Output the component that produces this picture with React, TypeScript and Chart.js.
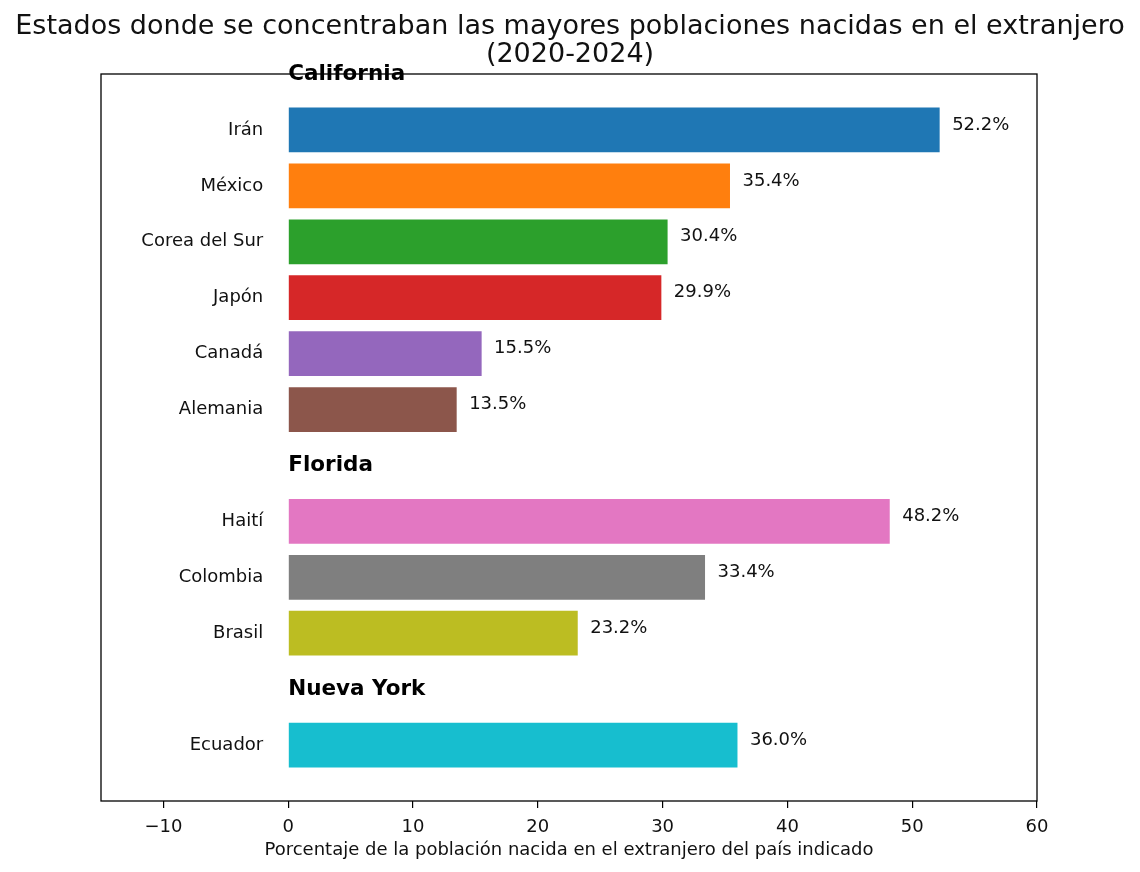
import React, { useEffect, useRef } from "react";
import { Chart, registerables } from "chart.js";

Chart.register(...registerables);

const titleLines = [
  "Estados donde se concentraban las mayores poblaciones nacidas en el extranjero",
  "(2020-2024)",
];
const xAxisTitle = "Porcentaje de la población nacida en el extranjero del país indicado";

const states = ["California", "Florida", "Nueva York"];
const countriesPerState = [6, 3, 1];
const countries = ["Irán", "México", "Corea del Sur", "Japón", "Canadá", "Alemania", "Haití", "Colombia", "Brasil", "Ecuador"];
const values = [52.2, 35.4, 30.4, 29.9, 15.5, 13.5, 48.2, 33.4, 23.2, 36.0];
const colors = ["#1f77b4", "#ff7f0e", "#2ca02c", "#d62728", "#9467bd", "#8c564b", "#e377c2", "#7f7f7f", "#bcbd22", "#17becf"];
const xTicks = [-10, 0, 10, 20, 30, 40, 50, 60];

const FONT = "'DejaVu Sans', 'Liberation Sans', sans-serif";

// Build row positions: header row then its countries
const headerPos: number[] = [];
const countryPos: number[] = [];
{
  let row = 0;
  states.forEach((_, si) => {
    headerPos.push(row);
    row++;
    for (let k = 0; k < countriesPerState[si]; k++) {
      countryPos.push(row);
      row++;
    }
  });
}
const totalRows = headerPos.length + countryPos.length;

export default function App() {
  const ref = useRef<HTMLCanvasElement | null>(null);
  useEffect(() => {
    if (!ref.current) return;
    const overlay = {
      id: "overlay",
      afterDatasetsDraw(chart: any) {
        const { ctx, chartArea, scales } = chart;
        const xs = scales.x;
        const ys = scales.y;
        ctx.save();
        // frame
        ctx.strokeStyle = "#000";
        ctx.lineWidth = 1.3;
        ctx.strokeRect(chartArea.left, chartArea.top, chartArea.right - chartArea.left, chartArea.bottom - chartArea.top);
        ctx.fillStyle = "#111";
        // country labels
        ctx.font = `18px ${FONT}`;
        ctx.textAlign = "right";
        ctx.textBaseline = "middle";
        countries.forEach((c, i) => {
          ctx.fillText(c, xs.getPixelForValue(-2), ys.getPixelForValue(countryPos[i]));
        });
        // value labels
        ctx.textAlign = "left";
        values.forEach((v, i) => {
          ctx.fillText(v.toFixed(1) + "%", xs.getPixelForValue(v + 1), ys.getPixelForValue(countryPos[i]) - 5);
        });
        // headers
        ctx.fillStyle = "#000";
        ctx.font = `bold 21.5px ${FONT}`;
        states.forEach((s, i) => {
          ctx.fillText(s, xs.getPixelForValue(0), ys.getPixelForValue(headerPos[i]));
        });
        // title
        ctx.fillStyle = "#111";
        ctx.font = `27px ${FONT}`;
        ctx.textAlign = "center";
        const cx = chart.width / 2;
        ctx.fillText(titleLines[0], cx, 27);
        ctx.fillText(titleLines[1], cx, 55);
        // axis title
        ctx.font = `18px ${FONT}`;
        ctx.fillText(xAxisTitle, (chartArea.left + chartArea.right) / 2, 850);
        ctx.restore();
      },
    };
    const chart = new Chart(ref.current, {
      type: "bar",
      data: {
        datasets: [
          {
            data: values.map((v, i) => ({ x: v, y: countryPos[i] })),
            backgroundColor: colors,
            borderWidth: 0,
            barPercentage: 0.8,
            categoryPercentage: 1,
          },
        ],
      },
      options: {
        indexAxis: "y",
        responsive: false,
        animation: false,
        layout: { padding: { left: 101, right: 103, top: 74, bottom: 0 } },
        plugins: { legend: { display: false }, tooltip: { enabled: false }, title: { display: false } },
        scales: {
          y: {
            type: "linear",
            display: false,
            reverse: true,
            offset: false,
            min: 0,
            max: totalRows,
          },
          x: {
            type: "linear",
            min: -15,
            max: 60,
            afterBuildTicks: (scale: any) => {
              scale.ticks = xTicks.map((v) => ({ value: v }));
            },
            afterFit: (scale: any) => {
              scale.height = 71;
            },
            grid: { display: true, drawOnChartArea: false, drawTicks: true, tickLength: 7, color: "#000", lineWidth: 1.2 },
            border: { display: false },
            ticks: {
              padding: 9,
              color: "#111",
              font: { family: FONT, size: 18 },
              maxRotation: 0,
              autoSkip: false,
              callback: (v: any) => String(v).replace("-", "\u2212"),
            },
          },
        },
      },
      plugins: [overlay],
    });
    return () => chart.destroy();
  }, []);
  return (
    <div style={{ position: "absolute", left: 0, top: 0, width: 1140, height: 872, background: "#fff" }}>
      <canvas ref={ref} width={1140} height={872} style={{ width: 1140, height: 872, display: "block" }} />
    </div>
  );
}
